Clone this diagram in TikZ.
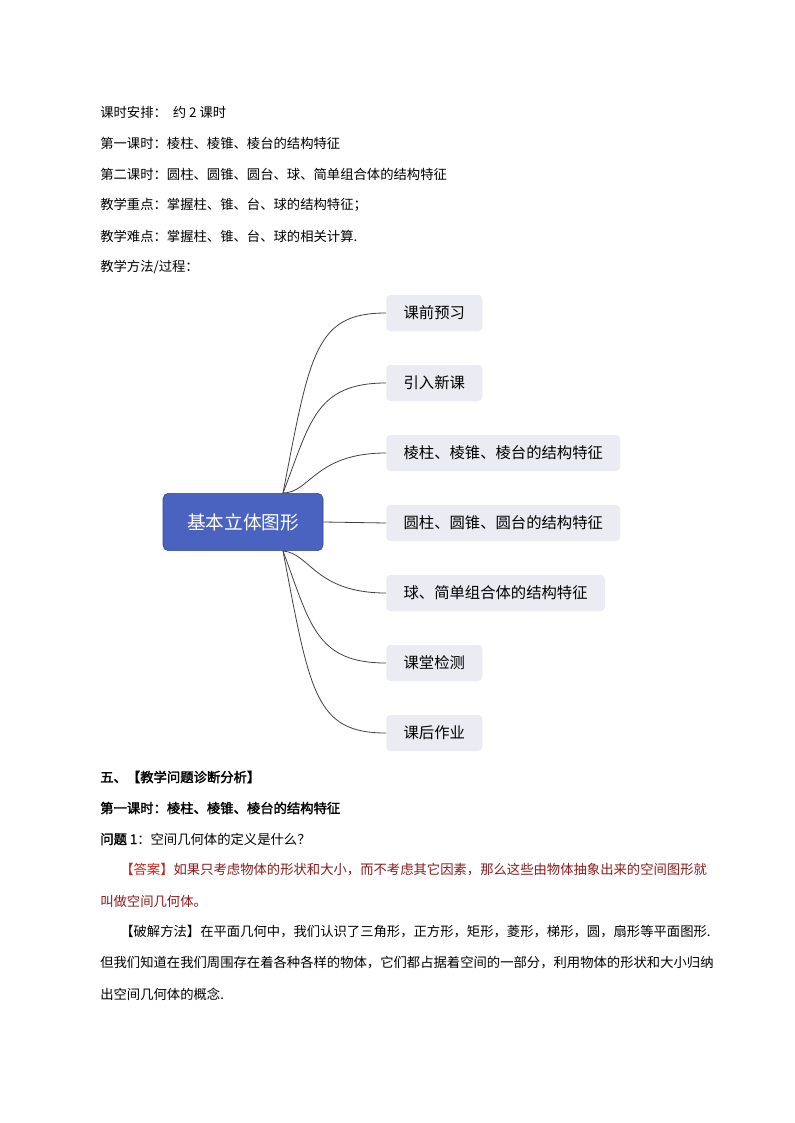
\documentclass[tikz,border=0pt]{standalone}
\usepackage{fontspec}
\setmainfont{Noto Sans CJK SC}[AutoFakeBold=2]
\definecolor{cblue}{HTML}{4A63C0}
\definecolor{cgray}{HTML}{EBEBF3}
\definecolor{dred}{HTML}{8B1A1A}
\definecolor{bred}{HTML}{D0201A}
\begin{document}
\begin{tikzpicture}[x=0.75pt,y=-0.75pt,
  line/.style={anchor=west,inner sep=0,font=\fontsize{10}{12}\selectfont},
  leaf/.style={draw=none,fill=cgray,rounded corners=3pt,anchor=west,minimum height=27pt,inner xsep=13pt,font=\fontsize{11.5}{13}\selectfont},
  conn/.style={draw=black!75,line width=0.6pt}]
\useasboundingbox (0,0) rectangle (794,1123);
\node[line] (t1) at (100,112) {课时安排：\ \ 约 2 课时};
\node[line] (t2) at (100,143) {第一课时：棱柱、棱锥、棱台的结构特征};
\node[line] (t3) at (100,174) {第二课时：圆柱、圆锥、圆台、球、简单组合体的结构特征};
\node[line] (t4) at (100,205) {教学重点：掌握柱、锥、台、球的结构特征；};
\node[line] (t5) at (100,236) {教学难点：掌握柱、锥、台、球的相关计算.};
\node[line] (t6) at (100,267) {教学方法/过程：};
\node[fill=cblue,draw=cblue!70!black,rounded corners=4pt,minimum width=120pt,minimum height=43pt,text=white,font=\fontsize{14}{16}\selectfont] (c) at (243,522) {基本立体图形};
\node[leaf] (a1) at (386,313) {课前预习};
\node[leaf] (a2) at (386,383) {引入新课};
\node[leaf] (a3) at (386,453) {棱柱、棱锥、棱台的结构特征};
\node[leaf] (a4) at (386,523) {圆柱、圆锥、圆台的结构特征};
\node[leaf] (a5) at (386,593) {球、简单组合体的结构特征};
\node[leaf] (a6) at (386,663) {课堂检测};
\node[leaf] (a7) at (386,733) {课后作业};
\coordinate (up) at (283,493);
\coordinate (dn) at (283,551);
\foreach \n/\y in {a1/313,a2/383,a3/453}{
  \draw[conn] (up) .. controls (310,\y+40) and (315,\y) .. (\n.west);}
\draw[conn] (c.east) -- (a4.west);
\foreach \n/\y in {a5/593,a6/663,a7/733}{
  \draw[conn] (dn) .. controls (310,\y-40) and (315,\y) .. (\n.west);}
\node[line,font=\fontsize{10}{12}\selectfont\bfseries] (b1) at (100,777) {五、【教学问题诊断分析】};
\node[line,font=\fontsize{10}{12}\selectfont\bfseries] (b2) at (100,808) {第一课时：棱柱、棱锥、棱台的结构特征};
\node[line] (b3) at (100,839) {\textbf{问题 1}：空间几何体的定义是什么？};
\node[line,text=dred] (b4) at (120,870) {\textcolor{bred}{【答案】}如果只考虑物体的形状和大小，而不考虑其它因素，那么这些由物体抽象出来的空间图形就};
\node[line,text=dred] (b5) at (100,901) {叫做空间几何体。};
\node[line] (b6) at (120,932) {【破解方法】在平面几何中，我们认识了三角形，正方形，矩形，菱形，梯形，圆，扇形等平面图形.};
\node[line] (b7) at (100,963) {但我们知道在我们周围存在着各种各样的物体，它们都占据着空间的一部分，利用物体的形状和大小归纳};
\node[line] (b8) at (100,994) {出空间几何体的概念.};
\end{tikzpicture}
\end{document}
